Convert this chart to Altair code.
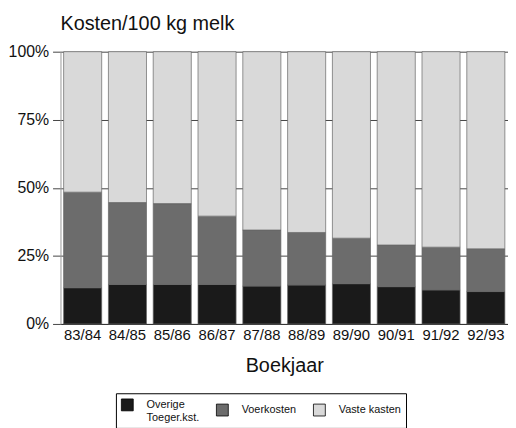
import altair as alt
import pandas as pd

years = ["83/84", "84/85", "85/86", "86/87", "87/88", "88/89", "89/90", "90/91", "91/92", "92/93"]
categories = ["Overige Toeger.kst.", "Voerkosten", "Vaste kasten"]
overige = [13.3, 14.5, 14.5, 14.5, 13.9, 14.3, 14.8, 13.7, 12.5, 11.9]
voerkosten = [35.1, 30.1, 29.7, 25.1, 20.6, 19.3, 16.7, 15.3, 15.7, 15.7]
vaste = [51.6, 55.4, 55.8, 60.4, 65.5, 66.4, 68.5, 71.0, 71.8, 72.4]
colors = ["#1a1a1a", "#6c6c6c", "#d9d9d9"]

rows = []
for i, y in enumerate(years):
    for k, (cat, vals) in enumerate(zip(categories, [overige, voerkosten, vaste])):
        rows.append({"jaar": y, "kost": cat, "waarde": vals[i], "volg": k})
df = pd.DataFrame(rows)

nb = "\u00a0"
label_expr = (
    "datum.label == 'Overige Toeger.kst.' ? ['Overige', 'Toeger.kst.'] : "
    "datum.label == 'Voerkosten' ? 'Voerkosten" + nb * 14 + "' : datum.label"
)

chart = (
    alt.Chart(df)
    .mark_bar(stroke="#666666", strokeWidth=0.7)
    .encode(
        x=alt.X(
            "jaar:N",
            sort=years,
            title="Boekjaar",
            scale=alt.Scale(paddingInner=0.15, paddingOuter=0.07),
            axis=alt.Axis(
                labelAngle=0,
                ticks=False,
                labelFontSize=15,
                labelPadding=4,
                labelColor="#111111",
                titleFontSize=20,
                titleFontWeight="normal",
                titlePadding=13,
                titleColor="#111111",
                domainColor="#333333",
                grid=False,
            ),
        ),
        y=alt.Y(
            "waarde:Q",
            stack="normalize",
            title=None,
            axis=alt.Axis(
                values=[0, 0.25, 0.5, 0.75, 1],
                format=".0%",
                labelFontSize=16,
                labelPadding=4,
                tickSize=8,
                tickColor="#444444",
                labelColor="#111111",
                domainColor="#999999",
                gridColor="#444444",
                gridWidth=1,
            ),
        ),
        color=alt.Color(
            "kost:N",
            scale=alt.Scale(domain=categories, range=colors),
            legend=alt.Legend(
                title=None,
                orient="none",
                legendX=56,
                legendY=345,
                direction="horizontal",
                columns=3,
                symbolType="square",
                symbolSize=144,
                symbolStrokeColor="#000000",
                symbolStrokeWidth=0.8,
                symbolOpacity=1,
                labelFontSize=11,
                labelOffset=13,
                columnPadding=14,
                padding=5,
                strokeColor="#000000",
                labelColor="#111111",
                labelExpr=label_expr,
            ),
        ),
        order=alt.Order("volg:Q", sort="ascending"),
    )
    .properties(
        width=452,
        height=275,
        padding={"left": 0, "right": 0, "top": 4, "bottom": 0},
        title=alt.TitleParams(
            "Kosten/100 kg melk",
            anchor="start",
            frame="group",
            fontSize=20,
            fontWeight="normal",
            color="#111111",
            offset=10,
        ),
    )
    .configure(font="Liberation Sans")
    .configure_view(stroke=None)
)

chart.save("out.html", embed_options={"renderer": "svg", "actions": False})
